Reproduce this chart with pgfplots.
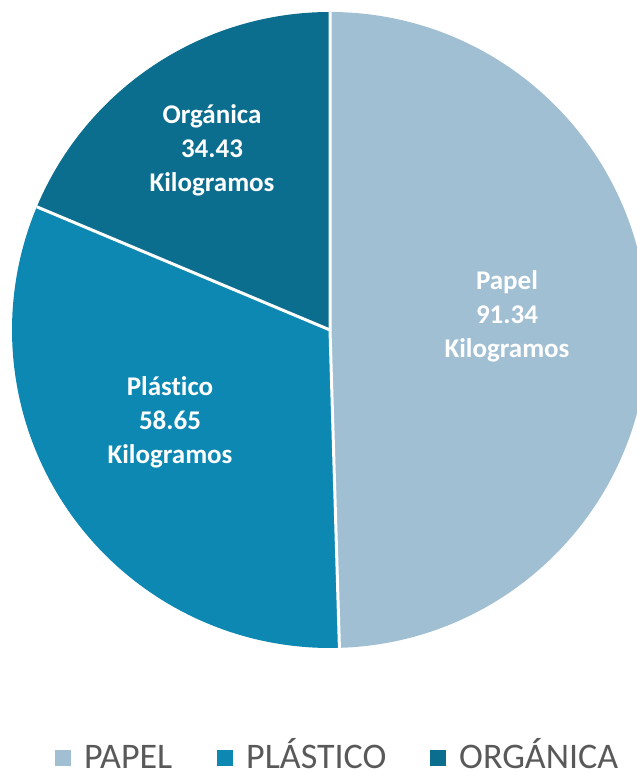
\documentclass[border=0pt]{standalone}
\usepackage{pgfplots}
\pgfplotsset{compat=1.18}
\usepackage{fontspec}
\setmainfont[Ligatures={NoCommon,NoDiscretionary}]{Carlito}
\definecolor{cPapel}{HTML}{A1BFD3}
\definecolor{cPlastico}{HTML}{0C88B3}
\definecolor{cOrganica}{HTML}{0B6E8F}
\definecolor{cLegend}{HTML}{595959}
% data (kilogramos)
\def\vPapel{91.34}
\def\vPlastico{58.65}
\def\vOrganica{34.43}
\begin{document}
\begin{tikzpicture}
\pgfmathsetmacro\total{\vPapel+\vPlastico+\vOrganica}
\pgfmathsetmacro\fA{\vPapel/\total}
\pgfmathsetmacro\fB{\vPlastico/\total}
\pgfmathsetmacro\aA{90}
\pgfmathsetmacro\aB{90-360*\fA}
\pgfmathsetmacro\aC{\aB-360*\fB}
\pgfmathsetmacro\aD{90-360}
\def\cx{330}\def\cy{442}\def\R{318}
\begin{axis}[x=1pt,y=1pt,xmin=0,xmax=637,ymin=0,ymax=772,
  hide axis, scale only axis, clip=true, at={(0,0)}, anchor=south west]
\fill[cPapel] (axis cs:\cx,\cy) -- (axis cs:{\cx+\R*cos(\aA)},{\cy+\R*sin(\aA)}) arc[start angle=\aA, end angle=\aB, radius=\R pt] -- cycle;
\fill[cPlastico] (axis cs:\cx,\cy) -- (axis cs:{\cx+\R*cos(\aB)},{\cy+\R*sin(\aB)}) arc[start angle=\aB, end angle=\aC, radius=\R pt] -- cycle;
\fill[cOrganica] (axis cs:\cx,\cy) -- (axis cs:{\cx+\R*cos(\aC)},{\cy+\R*sin(\aC)}) arc[start angle=\aC, end angle=\aD, radius=\R pt] -- cycle;
\draw[white, line width=3pt] (axis cs:{\cx+\R*cos(\aA)},{\cy+\R*sin(\aA)}) -- (axis cs:\cx,\cy) -- (axis cs:{\cx+\R*cos(\aB)},{\cy+\R*sin(\aB)});
\draw[white, line width=3pt] (axis cs:\cx,\cy) -- (axis cs:{\cx+\R*cos(\aC)},{\cy+\R*sin(\aC)});
% data labels
\begin{scope}[every node/.style={text=white, align=center, font=\fontsize{27}{34}\selectfont\bfseries}]
\node at (axis cs:507,456) {Papel\\91.34\\Kilogramos};
\node at (axis cs:170,350) {Plástico\\58.65\\Kilogramos};
\node at (axis cs:212,622) {Orgánica\\34.43\\Kilogramos};
\end{scope}
% legend
\begin{scope}[every node/.style={text=cLegend, anchor=base west, inner sep=0pt, font=\fontsize{36}{43}\selectfont}]
\fill[cPapel] (axis cs:55,6) rectangle (axis cs:71,22);
\node at (axis cs:84,4) {PAPEL};
\fill[cPlastico] (axis cs:217,6) rectangle (axis cs:233,22);
\node at (axis cs:246,4) {PLÁSTICO};
\fill[cOrganica] (axis cs:430,6) rectangle (axis cs:446,22);
\node at (axis cs:459,4) {ORGÁNICA};
\end{scope}
\end{axis}
\pgfresetboundingbox
\path (0,0) rectangle (637pt,772pt);
\end{tikzpicture}
\end{document}
